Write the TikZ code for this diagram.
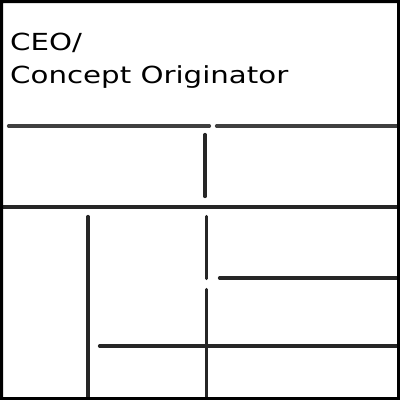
\documentclass[tikz,border=0pt]{standalone}
\usepackage{fontspec}
\setmainfont{DejaVu Sans}
\begin{document}
\begin{tikzpicture}[x=1pt,y=-1pt,
  rule/.style={line width=3.2pt,line cap=round,black!85},
  lbl/.style={anchor=base west,inner sep=0pt,xscale=1.245,font=\fontsize{23.5}{26}\selectfont}]
\useasboundingbox (0,0) rectangle (400,400);
\fill[white] (0,0) rectangle (400,400);
\node[lbl] (t1) at (10,50) {CEO/};
\node[lbl] (t2) at (10,83) {Concept Originator};
% top band
\draw[rule,black!75] (8.5,126) -- (209.5,126);
\draw[rule,black!75] (216.5,126) -- (400,126);
\draw[rule] (205,134.5) -- (205,196.5);
\draw[rule] (0,207) -- (400,207);
% lower area
\draw[rule] (88,216.5) -- (88,402);
\draw[rule] (206.5,216.5) -- (206.5,278.5);
\draw[rule] (206.5,289.5) -- (206.5,402);
\draw[rule] (219.5,278) -- (402,278);
\draw[rule] (99.5,346) -- (402,346);
% frame
\fill[black,even odd rule] (0,0) rectangle (400,400) (3,3) rectangle (397,397);
\end{tikzpicture}
\end{document}
